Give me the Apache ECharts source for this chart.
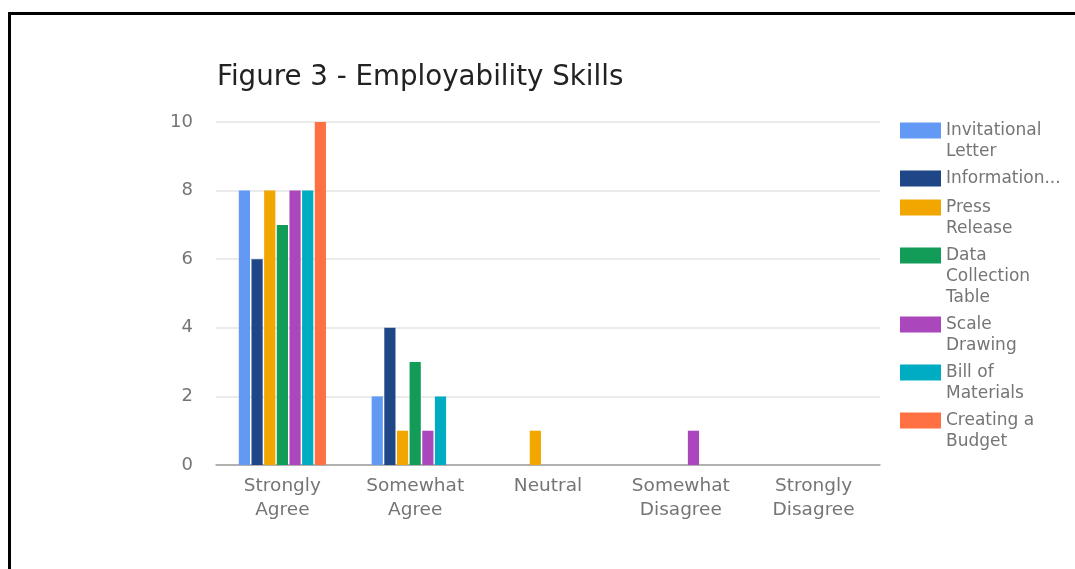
<!DOCTYPE html>
<html>
<head>
<meta charset="utf-8">
<script src="https://cdn.jsdelivr.net/npm/echarts@6/dist/echarts.min.js"></script>
<style>
  html, body { margin: 0; padding: 0; background: #fff; }
  #chart { position: absolute; left: 0; top: 0; width: 1075px; height: 569px; }
  #frame { position: absolute; left: 8px; top: 12px; width: 2000px; height: 2000px;
           border-left: 3px solid #000; border-top: 3px solid #000; pointer-events: none; }
</style>
</head>
<body>
<div id="chart"></div>
<div id="frame"></div>
<script>
const titleText = 'Figure 3 - Employability Skills';
const categories = ['Strongly\nAgree', 'Somewhat\nAgree', 'Neutral', 'Somewhat\nDisagree', 'Strongly\nDisagree'];
const seriesNames = ['Invitational Letter', 'Information...', 'Press Release', 'Data Collection Table', 'Scale Drawing', 'Bill of Materials', 'Creating a Budget'];
const legendLabels = ['Invitational\nLetter', 'Information...', 'Press\nRelease', 'Data\nCollection\nTable', 'Scale\nDrawing', 'Bill of\nMaterials', 'Creating a\nBudget'];
const colors = ['#6199f4', '#1f4687', '#f1a600', '#139b58', '#ab47bc', '#00acc1', '#ff7043'];

const invitationalLetter = [8, 2, 0, 0, 0];
const information = [6, 4, 0, 0, 0];
const pressRelease = [8, 1, 1, 0, 0];
const dataCollectionTable = [7, 3, 0, 0, 0];
const scaleDrawing = [8, 1, 0, 1, 0];
const billOfMaterials = [8, 2, 0, 0, 0];
const creatingBudget = [10, 0, 0, 0, 0];
const seriesValues = [invitationalLetter, information, pressRelease, dataCollectionTable, scaleDrawing, billOfMaterials, creatingBudget];

const yTicks = { min: 0, max: 10, interval: 2 };

const chart = echarts.init(document.getElementById('chart'), null, { renderer: 'canvas' });
const labelFont = 'DejaVu Sans';

const option = {
  animation: false,
  color: colors,
  title: {
    text: titleText,
    left: 217,
    top: 64,
    padding: 0,
    textStyle: { fontFamily: labelFont, fontSize: 27.7, fontWeight: 'normal', color: '#222222' }
  },
  legend: {
    orient: 'vertical',
    left: 900,
    top: 120,
    padding: 0,
    itemGap: 8,
    itemWidth: 41,
    itemHeight: 16,
    icon: 'rect',
    data: seriesNames,
    formatter: function (name) { return legendLabels[seriesNames.indexOf(name)]; },
    textStyle: {
      fontFamily: labelFont, fontSize: 17, color: '#757575',
      lineHeight: 21, height: 21,
      rich: { a: {} }
    }
  },
  grid: { left: 216, right: 195, top: 122, bottom: 104, containLabel: false },
  xAxis: {
    type: 'category',
    data: categories,
    axisTick: { show: false },
    axisLine: { show: true, lineStyle: { color: '#9e9e9e', width: 1.5 } },
    axisLabel: {
      interval: 0, margin: 9, fontFamily: labelFont, fontSize: 18.5, color: '#757575', lineHeight: 24
    },
    splitLine: { show: false }
  },
  yAxis: {
    type: 'value',
    min: yTicks.min, max: yTicks.max, interval: yTicks.interval,
    axisLine: { show: false },
    axisTick: { show: false },
    axisLabel: { margin: 23, fontFamily: labelFont, fontSize: 18, color: '#757575' },
    splitLine: { show: true, lineStyle: { color: '#e4e4e4', width: 1.5 } }
  },
  series: seriesNames.map(function (name, i) {
    return {
      name: name,
      type: 'bar',
      data: seriesValues[i],
      barWidth: 11.2,
      barGap: '13%',
      itemStyle: { color: colors[i] }
    };
  })
};
chart.setOption(option);
</script>
</body>
</html>
